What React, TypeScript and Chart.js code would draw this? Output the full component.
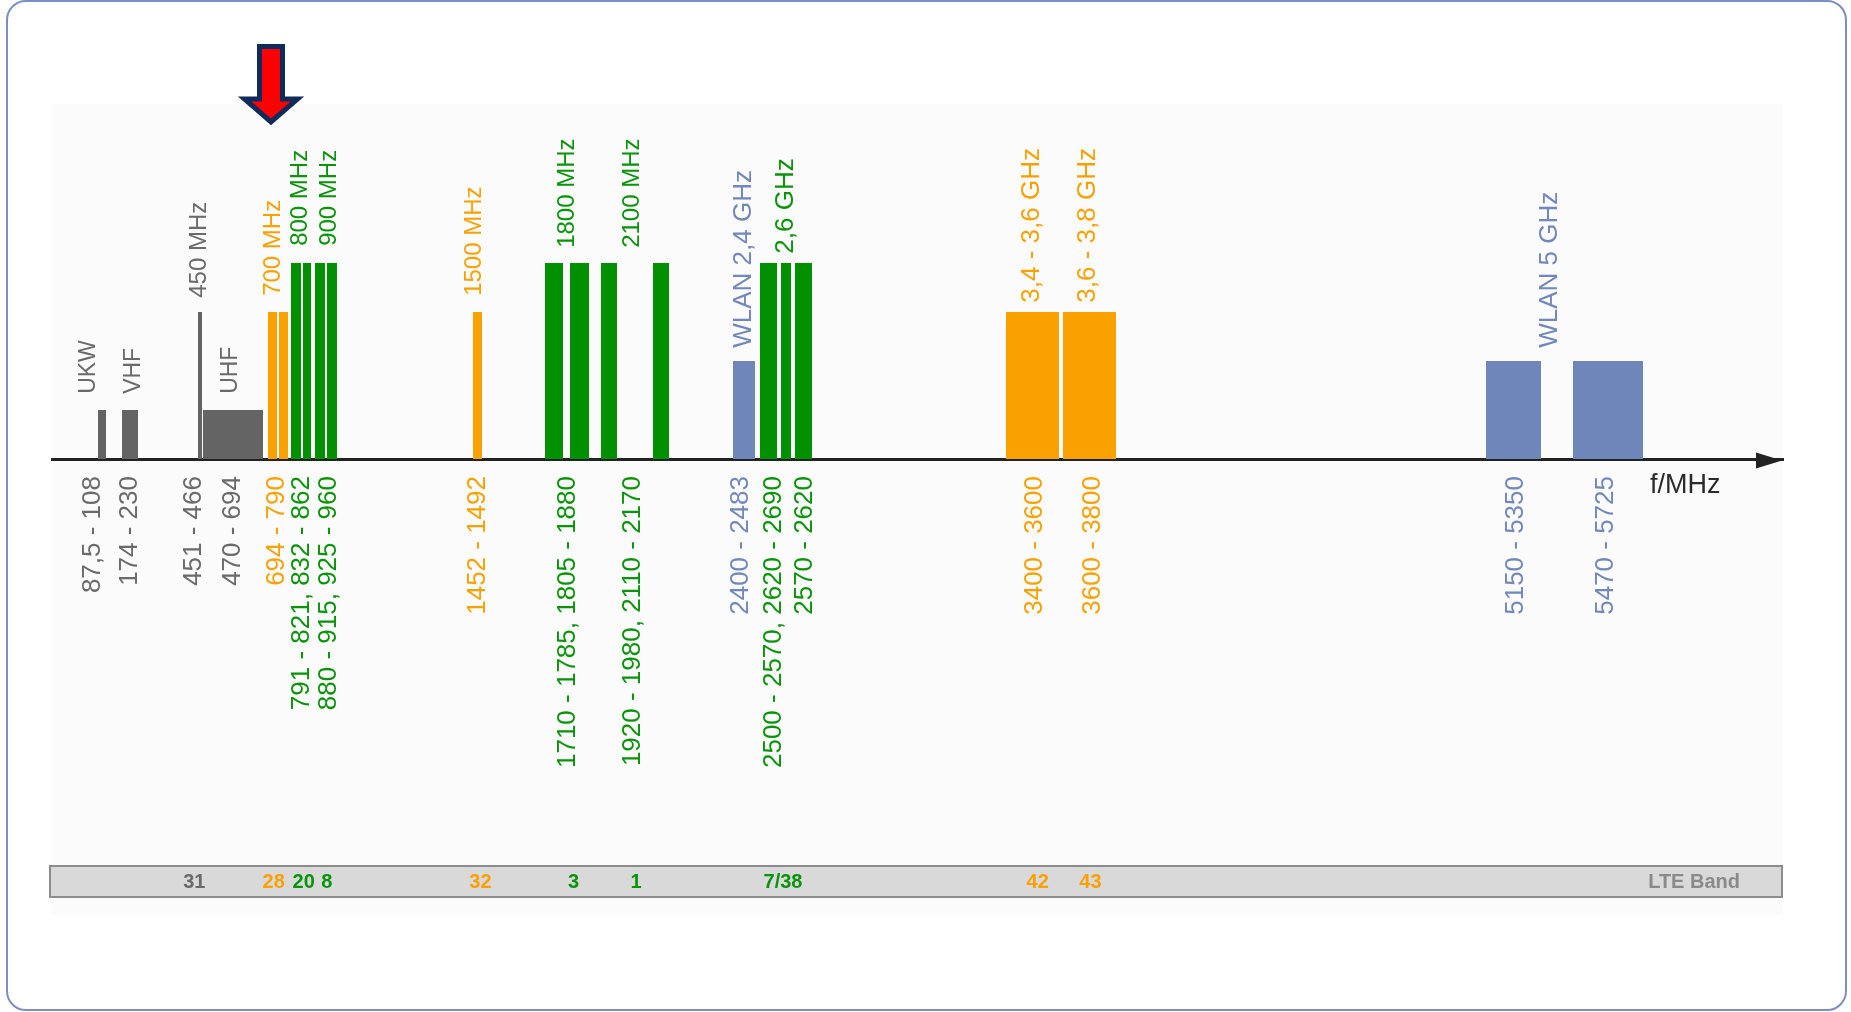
import React, { useEffect, useRef } from "react";
import { Chart, registerables } from "chart.js";

Chart.register(...registerables);

// ---------- DATA (schematic position along the frequency axis, not to scale) ----------
// Frequency blocks: start / end position, height level, and service kind
const BAND_START = [46, 70, 146, 151, 216, 227, 239, 251, 263, 275, 421, 493, 518, 549, 601, 681, 708, 729, 743, 954, 1011, 1434, 1521];
const BAND_END = [54, 86, 150, 211, 225, 236, 249, 259, 273, 285, 430, 511, 537, 565, 617, 703, 725, 739, 760, 1007, 1064, 1489, 1591];
const BAND_LEVEL = [1, 1, 3, 1, 3, 3, 4, 4, 4, 4, 3, 4, 4, 4, 4, 2, 4, 4, 4, 3, 3, 2, 2];
const BAND_KIND = ["rf", "rf", "rf", "rf", "new", "new", "lte", "lte", "lte", "lte", "new", "lte", "lte", "lte", "lte", "wlan", "lte", "lte", "lte", "new", "new", "wlan", "wlan"];

// Names written above the blocks
const TOP_LABELS = ["UKW", "VHF", "450 MHz", "UHF", "700 MHz", "800 MHz", "900 MHz", "1500 MHz", "1800 MHz", "2100 MHz", "WLAN 2,4 GHz", "2,6 GHz", "3,4 - 3,6 GHz", "3,6 - 3,8 GHz", "WLAN 5 GHz"];
const TOP_LABEL_X = [36.8, 81.7, 147, 178.3, 221.3, 248.3, 277.3, 422.2, 515.3, 580.2, 691.7, 734, 979.7, 1036.3, 1498.3];
const TOP_LABEL_Y = [1.35, 1.35, 3.31, 1.35, 3.35, 4.37, 4.37, 3.35, 4.33, 4.33, 2.29, 4.21, 3.21, 3.21, 2.29];
const TOP_LABEL_KIND = ["rf", "rf", "rf", "rf", "new", "lte", "lte", "new", "lte", "lte", "wlan", "lte", "new", "new", "wlan"];

// Frequency ranges (MHz) shown as axis tick labels
const TICK_VALUES = [41.3, 78, 141.7, 180.7, 225, 249.7, 277.3, 426.3, 515.8, 581, 689.2, 722.2, 752.5, 982.5, 1040.8, 1463.5, 1553.6];
const TICK_LABELS = ["87,5 - 108", "174 - 230", "451 - 466", "470 - 694", "694 - 790", "791 - 821, 832 - 862", "880 - 915, 925 - 960", "1452 - 1492", "1710 - 1785, 1805 - 1880", "1920 - 1980, 2110 - 2170", "2400 - 2483", "2500 - 2570, 2620 - 2690", "2570 - 2620", "3400 - 3600", "3600 - 3800", "5150 - 5350", "5470 - 5725"];
const TICK_KIND = ["rf", "rf", "rf", "rf", "new", "lte", "lte", "new", "lte", "lte", "wlan", "lte", "lte", "new", "new", "wlan", "wlan"];

// LTE band numbers
const LTE_BANDS = ["31", "28", "20", "8", "32", "3", "1", "7/38", "42", "43"];
const LTE_X = [142.3, 221.7, 251.7, 274.7, 428.4, 521.5, 584, 731, 985.7, 1038.4];
const LTE_KIND = ["rf", "new", "lte", "lte", "new", "lte", "lte", "lte", "new", "new"];
const LTE_TITLE = "LTE Band";
const AXIS_TITLE = "f/MHz";
const MARKER_X = 219; // red arrow marks the 700 MHz block

const AXIS_MAX = 1731;
const LEVEL_MAX = 7.245;

// ---------- STYLE ----------
const FONT = '"Liberation Sans", Arial, Helvetica, sans-serif';
const BAR_COLORS: Record<string, string> = { rf: "#646464", new: "#f8a100", lte: "#009000", wlan: "#6f86ba" };
const TEXT_COLORS: Record<string, string> = { rf: "#6a6a6a", new: "#f8a100", lte: "#0a940a", wlan: "#7287bc" };
const W = 1851;
const H = 1012;
const AXIS_Y = 459;
const PAD = { left: 52, right: 68, top: 104 };
const PANEL_BOTTOM = 915;
const STRIP_TOP = 866;
const STRIP_BOTTOM = 897;
const topLabelSize = (t: string) => (t.includes("GHz") ? 26 : t.includes("MHz") ? 24 : 23);

const decorPlugin = {
  id: "spectrumDecor",
  beforeDraw(chart: any) {
    const { ctx, chartArea } = chart;
    ctx.save();
    ctx.fillStyle = "#fbfbfb";
    ctx.fillRect(chartArea.left, chartArea.top, chartArea.right - chartArea.left, PANEL_BOTTOM - chartArea.top);
    ctx.restore();
  },
  afterDraw(chart: any) {
    const { ctx, chartArea } = chart;
    const x = chart.scales.x;
    const y = chart.scales.y;
    const axisMid = chartArea.bottom + 1.5;

    // arrow head of the frequency axis
    ctx.save();
    ctx.fillStyle = "#222";
    ctx.beginPath();
    ctx.moveTo(chartArea.right - 1, axisMid);
    ctx.lineTo(chartArea.right - 27, axisMid - 8);
    ctx.lineTo(chartArea.right - 27, axisMid + 8);
    ctx.closePath();
    ctx.fill();

    // axis title
    ctx.font = `27px ${FONT}`;
    ctx.fillStyle = "#2a2a2a";
    ctx.textAlign = "left";
    ctx.textBaseline = "alphabetic";
    ctx.fillText(AXIS_TITLE, x.getPixelForValue(1598), 493);

    // labels above the blocks
    for (let i = 0; i < TOP_LABELS.length; i++) {
      const px = x.getPixelForValue(TOP_LABEL_X[i]);
      const py = y.getPixelForValue(TOP_LABEL_Y[i]) + 1;
      ctx.save();
      ctx.font = `${topLabelSize(TOP_LABELS[i])}px ${FONT}`;
      ctx.translate(px, py);
      ctx.rotate(-Math.PI / 2);
      ctx.textAlign = "left";
      ctx.textBaseline = "middle";
      ctx.fillStyle = TEXT_COLORS[TOP_LABEL_KIND[i]];
      ctx.fillText(TOP_LABELS[i], 0, 0);
      ctx.restore();
    }

    // LTE band strip
    const sl = chartArea.left - 2;
    const sr = chartArea.right - 1;
    ctx.fillStyle = "#d9d9d9";
    ctx.fillRect(sl, STRIP_TOP, sr - sl, STRIP_BOTTOM - STRIP_TOP);
    ctx.strokeStyle = "#8c8c8c";
    ctx.lineWidth = 2;
    ctx.strokeRect(sl, STRIP_TOP, sr - sl, STRIP_BOTTOM - STRIP_TOP);
    const midY = (STRIP_TOP + STRIP_BOTTOM) / 2 + 1;
    ctx.font = `bold 20px ${FONT}`;
    ctx.textBaseline = "middle";
    ctx.textAlign = "center";
    for (let i = 0; i < LTE_BANDS.length; i++) {
      const px = x.getPixelForValue(LTE_X[i]);
      ctx.fillStyle = TEXT_COLORS[LTE_KIND[i]];
      ctx.fillText(LTE_BANDS[i], px, midY);
    }
    ctx.textAlign = "right";
    ctx.font = `bold 20px ${FONT}`;
    ctx.fillStyle = "#8a8a8a";
    ctx.fillText(LTE_TITLE, sr - 42, midY);

    // red marker arrow
    const cx = x.getPixelForValue(MARKER_X);
    ctx.beginPath();
    ctx.moveTo(cx - 11.5, 46.5);
    ctx.lineTo(cx + 11.5, 46.5);
    ctx.lineTo(cx + 11.5, 99);
    ctx.lineTo(cx + 26.5, 99);
    ctx.lineTo(cx, 122);
    ctx.lineTo(cx - 26.5, 99);
    ctx.lineTo(cx - 11.5, 99);
    ctx.closePath();
    ctx.fillStyle = "#ff0000";
    ctx.fill();
    ctx.lineWidth = 5;
    ctx.lineJoin = "miter";
    ctx.strokeStyle = "#0f2b5b";
    ctx.stroke();
    ctx.restore();
  },
};

export default function App() {
  const canvasRef = useRef<HTMLCanvasElement | null>(null);

  useEffect(() => {
    const canvas = canvasRef.current;
    if (!canvas) return;
    const datasets = BAND_START.map((s, i) => ({
      label: `band ${i}`,
      data: [
        { x: s, y: 0 },
        { x: s, y: BAND_LEVEL[i] },
        { x: BAND_END[i], y: BAND_LEVEL[i] },
        { x: BAND_END[i], y: 0 },
      ],
      fill: "origin",
      backgroundColor: BAR_COLORS[BAND_KIND[i]],
      borderColor: "rgba(0,0,0,0)",
      borderWidth: 0,
      pointRadius: 0,
      tension: 0,
    }));

    const chart = new Chart(canvas, {
      type: "line",
      data: { datasets: datasets as any },
      options: {
        animation: false,
        responsive: false,
        devicePixelRatio: 1,
        events: [],
        layout: { padding: { left: PAD.left, right: PAD.right, top: PAD.top, bottom: 0 } },
        plugins: { legend: { display: false }, tooltip: { enabled: false } },
        scales: {
          x: {
            type: "linear",
            position: "bottom",
            min: 0,
            max: AXIS_MAX,
            grid: { display: false, drawTicks: false },
            border: { display: true, color: "#222", width: 3 },
            afterBuildTicks: (s: any) => {
              s.ticks = TICK_VALUES.map((v) => ({ value: v }));
            },
            afterFit: (s: any) => {
              s.height = H - AXIS_Y;
            },
            ticks: {
              autoSkip: false,
              minRotation: 90,
              maxRotation: 90,
              padding: 17,
              font: { family: FONT, size: 26 },
              color: (c: any) => TEXT_COLORS[TICK_KIND[c.index]] || "#6a6a6a",
              callback: (_v: any, i: number) => TICK_LABELS[i],
            },
          },
          y: { display: false, min: 0, max: LEVEL_MAX },
        },
      } as any,
      plugins: [decorPlugin],
    });
    return () => chart.destroy();
  }, []);

  return (
    <div style={{ position: "fixed", left: 0, top: 0, width: W, height: H, background: "#fff" }}>
      <canvas ref={canvasRef} width={W} height={H} style={{ display: "block", width: W, height: H }} />
      <div
        style={{
          position: "absolute",
          left: 6,
          top: 0,
          width: 1841,
          height: 1011,
          boxSizing: "border-box",
          border: "2px solid #7d8ec6",
          borderRadius: 20,
          pointerEvents: "none",
        }}
      />
    </div>
  );
}
